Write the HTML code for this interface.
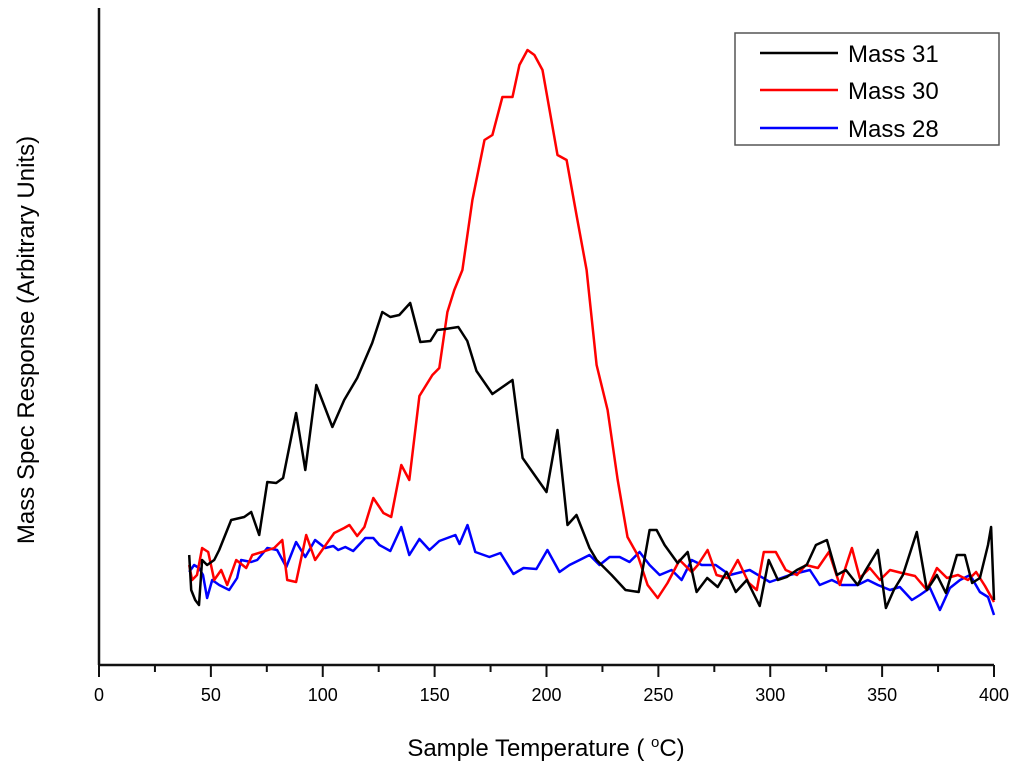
<!DOCTYPE html>
<html><head><meta charset="utf-8"><style>
body{margin:0;background:#fff;}
svg{display:block;font-family:"Liberation Sans",Arial,sans-serif;}
</style></head><body>
<svg id="chart" width="1024" height="777" viewBox="0 0 1024 777" xmlns="http://www.w3.org/2000/svg">
<rect width="1024" height="777" fill="#fff"/>
<g id="axes"></g>
<g id="series"></g>
<g id="legend">
 <rect x="735" y="33" width="264" height="112" fill="#fff" stroke="#555" stroke-width="1.5"/>
 <g><line x1="760" y1="53" x2="838" y2="53" stroke="#000" stroke-width="2.5"/><text x="848" y="62" font-size="24">Mass 31</text></g>
 <g><line x1="760" y1="90" x2="838" y2="90" stroke="#f00" stroke-width="2.5"/><text x="848" y="99" font-size="24">Mass 30</text></g>
 <g><line x1="760" y1="128" x2="838" y2="128" stroke="#00f" stroke-width="2.5"/><text x="848" y="137" font-size="24">Mass 28</text></g>
</g>
<text x="546" y="756" font-size="24" text-anchor="middle">Sample Temperature ( <tspan font-size="15" dy="-9">o</tspan><tspan dy="9">C)</tspan></text>
<text transform="translate(34,340) rotate(-90)" font-size="24" text-anchor="middle">Mass Spec Response (Arbitrary Units)</text>
</svg>
<script>
const xTicks=[0,50,100,150,200,250,300,350,400];
const tB=[40.3,41.2,43,44.7,46.1,48.3,51.5,53.7,59.1,64.9,68,71.6,75.2,79.2,82.3,88.1,92.2,97.1,104.3,109.6,115.4,122.1,126.6,130.2,134.2,139.1,143.6,148.1,151.2,154.8,160.6,164.6,168.7,175.8,184.8,189.3,200,204.9,209.4,213.4,219.2,222.4,229.1,235.3,241.2,246.1,249.2,252.8,258.6,263.1,267.1,271.8,276.5,280.5,284.6,289.5,295.3,299.3,303.4,307.4,311.9,316.3,320.4,325.3,329.8,333.8,339.1,342.7,348.1,351.7,355.2,359.3,365.5,370,374.5,378.5,383.4,387,390.2,393.7,397.3,398.7,400];
const mass31=[110,75,65,60,105,100,105,115,145,148,153,130,183,182,187,252,195,280,238,265,287,322,353,348,350,362,323,324,335,336,338,324,294,271,285,207,173,235,140,150,117,105,90,75,73,135,135,120,102,113,73,87,78,93,73,85,59,105,85,88,95,100,120,125,90,95,80,95,115,57,75,90,133,75,90,72,110,110,82,87,120,138,65];
const tR=[40.3,41.6,43.8,46.1,48.8,51.5,54.6,57.3,61.3,65.8,68.5,72.9,78.3,81.9,84.1,88.1,92.6,96.6,100.7,105.1,109.6,111.9,115.4,118.6,122.6,127.1,130.6,135.1,138.7,143.2,149,152.1,155.7,158.8,162.4,166.9,172.3,175.8,180.3,184.8,187.9,191.5,194.6,198.2,204.9,209,213.4,217.9,222.4,227.3,231.8,236.2,240.7,245.2,249.7,254.1,259.5,264.9,267.6,272,276,281,285.5,290.4,294,297.1,302.5,306.9,311.9,315.9,321.3,326.2,331.1,336.5,340,344.5,349,353.5,358.8,364.7,370,374.5,379,383.9,388.4,392,396,400];
const mass30=[100,85,90,117,113,85,95,80,105,97,110,113,117,125,85,83,130,105,118,132,137,140,129,138,167,152,148,200,185,269,290,297,353,375,395,465,525,530,568,568,600,615,610,595,510,505,450,395,300,255,185,128,110,80,67,82,105,93,100,115,90,87,105,82,75,113,113,95,90,100,97,113,80,117,87,97,85,95,92,89,75,97,87,90,85,93,79,63];
const tU=[40.3,42.5,44.7,46.5,48.3,50.6,53.7,58.2,61.7,63.5,68,70.7,75.2,79.6,83.7,88.1,92.2,96.6,101.1,104.7,106.9,110.1,113.6,119,122.6,125.3,130.2,135.1,138.7,143.2,147.7,152.1,159.3,161.1,164.7,168.2,174.5,179.4,185.2,189.7,195.5,200.4,205.8,210.3,214.8,219.2,223.7,228.2,232.7,237.1,241.6,246.1,250.6,255.9,260.4,264.9,269.4,275.6,281.9,290.8,299.8,308.7,317.7,322.1,327.5,332,339.1,343.6,348.1,353.5,357.9,363.3,366.9,371.4,375.8,380.3,384.8,389.3,393.7,397.3,400];
const mass28=[93,100,97,90,67,85,80,75,87,105,103,105,117,115,98,123,108,125,117,119,115,118,114,127,127,120,114,138,110,126,115,124,130,121,140,113,108,112,91,97,96,115,93,100,105,110,100,108,108,103,113,100,90,95,85,105,100,100,90,95,83,90,95,80,85,80,80,85,80,75,78,65,70,77,55,77,85,90,73,68,50];

const X0=99,X1=994,Y0=665,Y1=8,YMAX=657;
const xs=v=>X0+(v/400)*(X1-X0);
const ys=v=>Y0-(v/YMAX)*(Y0-Y1);
const NS='http://www.w3.org/2000/svg';
function mk(tag,attrs,parent){const e=document.createElementNS(NS,tag);for(const k in attrs)e.setAttribute(k,attrs[k]);parent.appendChild(e);return e;}
const ax=document.getElementById('axes');
let yl=mk('line',{x1:X0,y1:Y1,x2:X0,y2:Y0,stroke:'#111','stroke-width':2.5},ax);


let xl=mk('line',{x1:X0-1,y1:Y0,x2:X1,y2:Y0,stroke:'#111','stroke-width':2.5},ax);


for(let i=0;i<xTicks.length;i++){
  const v=xTicks[i];
  let t=mk('line',{x1:xs(v),y1:Y0,x2:xs(v),y2:Y0+12,stroke:'#111','stroke-width':2},ax);
  
  
  let lb=mk('text',{x:xs(v),y:Y0+36,'font-size':18,'text-anchor':'middle'},ax);
  lb.textContent=String(v);
  
  
  if(i<xTicks.length-1){
    const m=(v+xTicks[i+1])/2;
    let mt=mk('line',{x1:xs(m),y1:Y0,x2:xs(m),y2:Y0+7,stroke:'#111','stroke-width':2},ax);
    
    
  }
}
const sg=document.getElementById('series');
function line(ts,vs,color,name){
  const d=ts.map((t,i)=>(i?'L':'M')+xs(t).toFixed(1)+','+ys(vs[i]).toFixed(1)).join('');
  const p=mk('path',{d:d,fill:'none',stroke:color,'stroke-width':2.5,'stroke-linejoin':'round'},sg);
  
  
}
line(tU,mass28,'#0000ff','mass-28-line');
line(tR,mass30,'#ff0000','mass-30-line');
line(tB,mass31,'#000000','mass-31-line');
</script>
</body></html>
